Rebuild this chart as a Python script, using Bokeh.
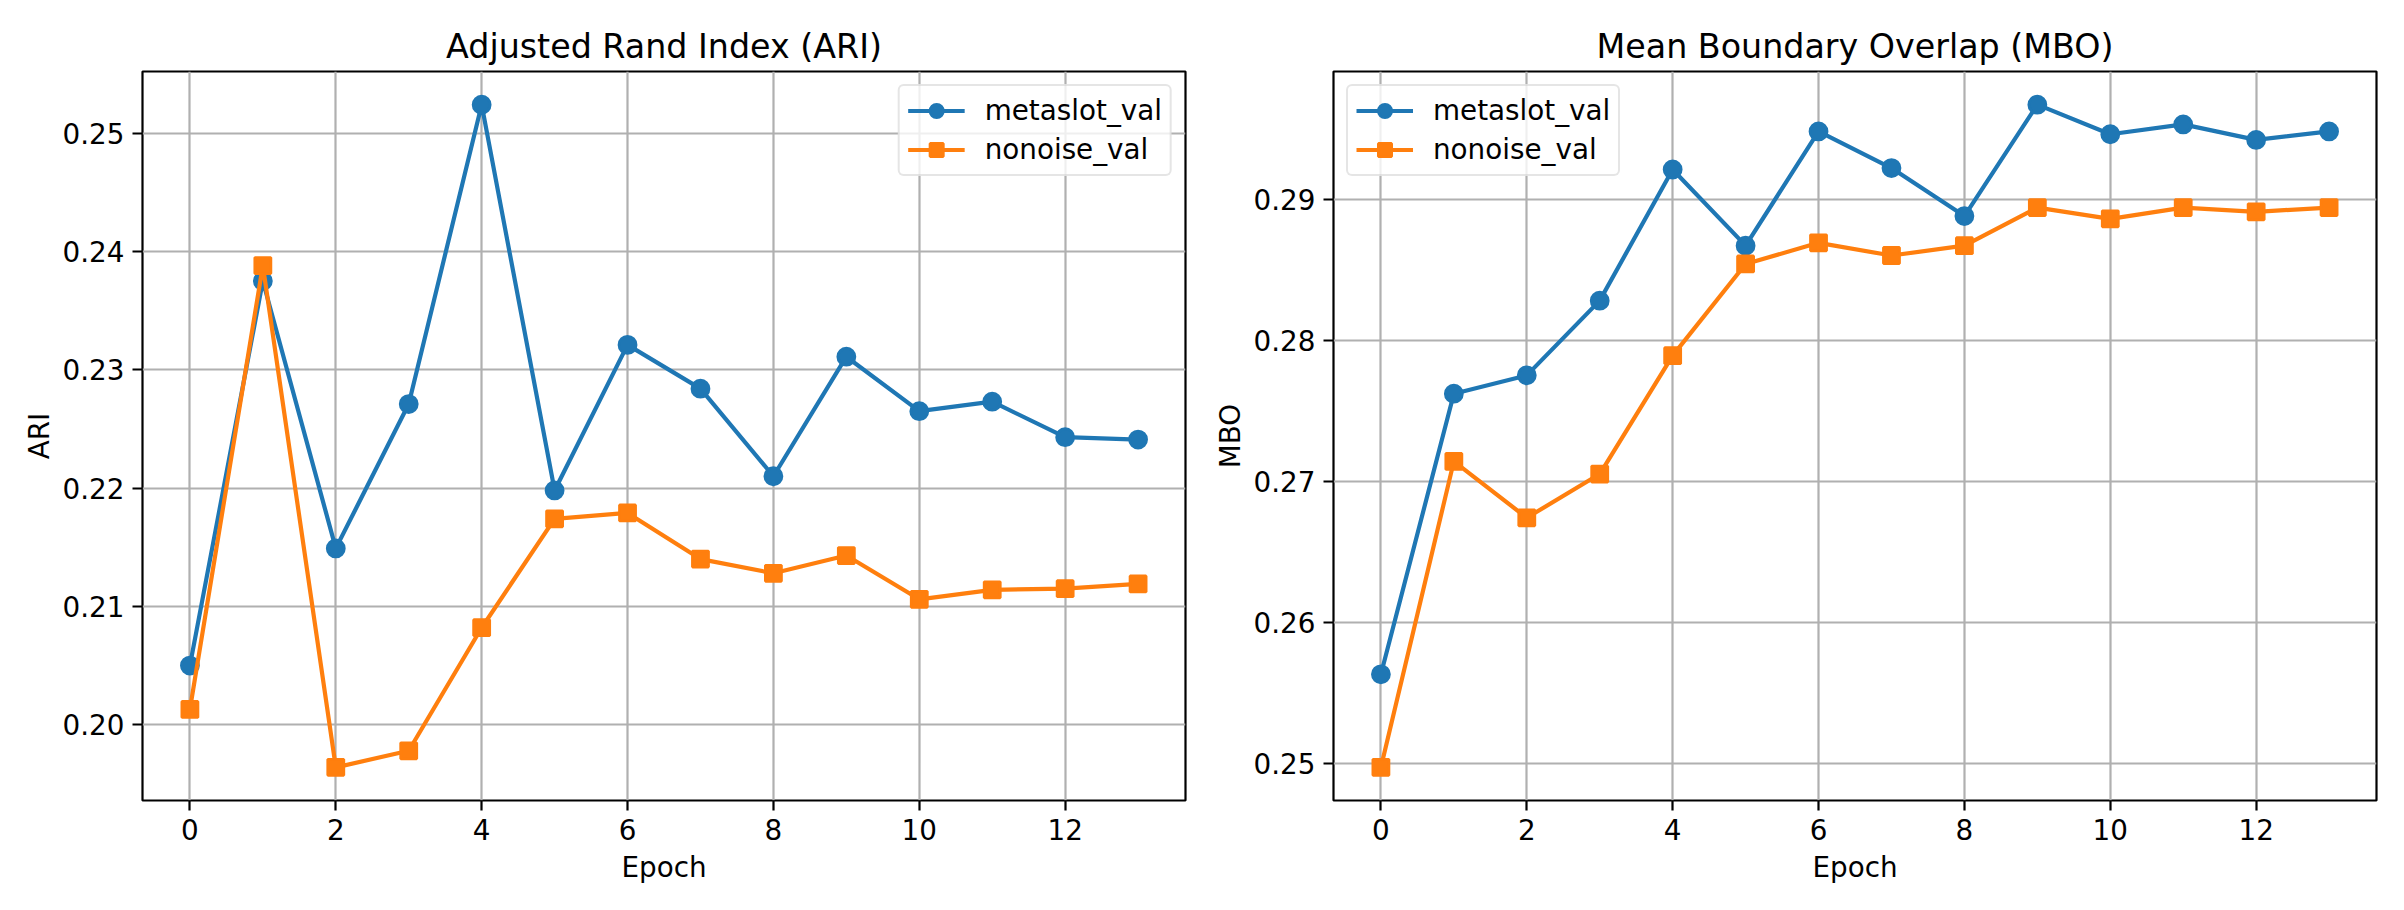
from bokeh.plotting import figure
from bokeh.layouts import row
from bokeh.models import Range1d, FixedTicker, PrintfTickFormatter, Legend, LegendItem
from bokeh.embed import file_html
from bokeh.resources import INLINE

epochs = list(range(14))

ari_metaslot = [0.2050, 0.2375, 0.2149, 0.2271, 0.2524, 0.2198, 0.2321,
                0.2284, 0.2210, 0.2311, 0.2265, 0.2273, 0.2243, 0.2241]
ari_nonoise = [0.2013, 0.2388, 0.1964, 0.1978, 0.2082, 0.2174, 0.2179,
               0.2140, 0.2128, 0.2143, 0.2106, 0.2114, 0.2115, 0.2119]

mbo_metaslot = [0.2563, 0.2762, 0.2775, 0.2828, 0.2921, 0.2867, 0.2948,
                0.2922, 0.2888, 0.2967, 0.2946, 0.2953, 0.2942, 0.2948]
mbo_nonoise = [0.2497, 0.2714, 0.2674, 0.2705, 0.2789, 0.2854, 0.2869,
               0.2860, 0.2867, 0.2894, 0.2886, 0.2894, 0.2891, 0.2894]

x_ticks = [0, 2, 4, 6, 8, 10, 12]
ari_ticks = [0.20, 0.21, 0.22, 0.23, 0.24, 0.25]
mbo_ticks = [0.25, 0.26, 0.27, 0.28, 0.29]

series_names = ["metaslot_val", "nonoise_val"]
BLUE = "#1f77b4"
ORANGE = "#ff7f0e"
FONT = "DejaVu Sans"
FS = "27.8px"
GRID = "#b0b0b0"


def padded(vals, frac=0.05):
    lo, hi = min(vals), max(vals)
    d = (hi - lo) * frac
    return lo - d, hi + d


def make_panel(title, ylabel, ya, yb, yticks, legend_loc, bl, br):
    ylo, yhi = padded(ya + yb)
    xlo, xhi = padded(epochs)
    top = 71
    p = figure(width=bl + 1043 + br, height=890, output_backend="svg",
               toolbar_location=None, x_range=Range1d(xlo, xhi),
               y_range=Range1d(ylo, yhi), title=title)
    p.min_border_left = bl
    p.min_border_right = br
    p.min_border_top = top
    p.min_border_bottom = 890 - top - 729
    p.background_fill_color = "white"
    p.border_fill_color = "white"
    p.outline_line_color = "black"
    p.outline_line_width = 2.2

    p.title.text_font = FONT
    p.title.text_font_size = "33.3px"
    p.title.text_font_style = "normal"
    p.title.align = "center"
    p.title.text_color = "black"
    p.title.standoff = 12

    for ax in (p.xaxis[0], p.yaxis[0]):
        ax.axis_line_color = None
        ax.major_tick_out = 10
        ax.major_tick_in = 0
        ax.major_tick_line_width = 2.2
        ax.major_tick_line_color = "black"
        ax.minor_tick_line_color = None
        ax.major_label_text_font = FONT
        ax.major_label_text_font_size = FS
        ax.major_label_text_color = "black"
        ax.major_label_standoff = 8
        ax.axis_label_text_font = FONT
        ax.axis_label_text_font_size = FS
        ax.axis_label_text_font_style = "normal"
        ax.axis_label_text_color = "black"
    p.xaxis[0].ticker = FixedTicker(ticks=x_ticks)
    p.yaxis[0].ticker = FixedTicker(ticks=yticks)
    p.yaxis[0].formatter = PrintfTickFormatter(format="%.2f")
    p.xaxis[0].axis_label = "Epoch"
    p.yaxis[0].axis_label = ylabel
    p.xaxis[0].axis_label_standoff = 8
    p.yaxis[0].axis_label_standoff = 4

    p.xgrid.ticker = FixedTicker(ticks=x_ticks)
    p.ygrid.ticker = FixedTicker(ticks=yticks)
    for g in (p.xgrid[0], p.ygrid[0]):
        g.grid_line_color = GRID
        g.grid_line_width = 2.2

    l1 = p.line(epochs, ya, line_color=BLUE, line_width=4.2)
    m1 = p.scatter(epochs, ya, marker="circle", size=17, fill_color=BLUE,
                   line_color=BLUE, line_width=2.8)
    l2 = p.line(epochs, yb, line_color=ORANGE, line_width=4.2)
    m2 = p.scatter(epochs, yb, marker="square", size=16, fill_color=ORANGE,
                   line_color=ORANGE, line_width=2.8)

    legend = Legend(items=[LegendItem(label=series_names[0], renderers=[l1, m1]),
                           LegendItem(label=series_names[1], renderers=[l2, m2])],
                    location=legend_loc)
    legend.margin = 13
    legend.padding = 8
    legend.spacing = 6
    legend.label_text_font = FONT
    legend.label_text_font_size = FS
    legend.label_text_color = "black"
    legend.label_standoff = 20
    legend.label_height = 33
    legend.glyph_height = 33
    legend.glyph_width = 57
    legend.border_line_color = "#cccccc"
    legend.border_line_width = 2.2
    legend.border_radius = 6
    legend.background_fill_color = "white"
    legend.background_fill_alpha = 0.8
    p.add_layout(legend, "center")
    return p


p1 = make_panel("Adjusted Rand Index (ARI)", "ARI", ari_metaslot, ari_nonoise,
                ari_ticks, "top_right", 142, 15)
p2 = make_panel("Mean Boundary Overlap (MBO)", "MBO", mbo_metaslot, mbo_nonoise,
                mbo_ticks, "top_left", 133, 16)

layout = row(p1, p2)
open("out.html", "w").write(file_html(layout, INLINE))
